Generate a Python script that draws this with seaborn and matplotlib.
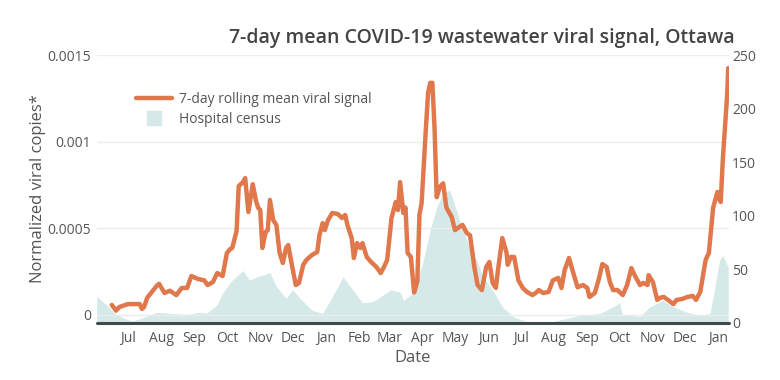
import pandas as pd
import numpy as np
import matplotlib
matplotlib.use("Agg")
import matplotlib.pyplot as plt
import matplotlib.dates as mdates
from matplotlib.lines import Line2D
import seaborn as sns

# 7-day rolling mean viral signal (left axis)
viral_dates = [
    "2021-06-16", "2021-06-20", "2021-06-23", "2021-07-01", "2021-07-12", "2021-07-14",
    "2021-07-16", "2021-07-19", "2021-07-28", "2021-07-30", "2021-08-04", "2021-08-09",
    "2021-08-15", "2021-08-20", "2021-08-25", "2021-08-29", "2021-09-04", "2021-09-10",
    "2021-09-13", "2021-09-18", "2021-09-22", "2021-09-27", "2021-10-01", "2021-10-04",
    "2021-10-06", "2021-10-10", "2021-10-12", "2021-10-16", "2021-10-18", "2021-10-21",
    "2021-10-25", "2021-10-28", "2021-10-30", "2021-11-01", "2021-11-03", "2021-11-06",
    "2021-11-08", "2021-11-10", "2021-11-13", "2021-11-16", "2021-11-19", "2021-11-22",
    "2021-11-25", "2021-11-27", "2021-11-29", "2021-12-04", "2021-12-07", "2021-12-11",
    "2021-12-14", "2021-12-19", "2021-12-24", "2021-12-26", "2021-12-29", "2021-12-31",
    "2022-01-03", "2022-01-07", "2022-01-12", "2022-01-16", "2022-01-19", "2022-01-21",
    "2022-01-25", "2022-01-27", "2022-01-30", "2022-02-02", "2022-02-04", "2022-02-08",
    "2022-02-12", "2022-02-17", "2022-02-21", "2022-02-24", "2022-02-27", "2022-03-03",
    "2022-03-07", "2022-03-09", "2022-03-11", "2022-03-14", "2022-03-16", "2022-03-18",
    "2022-03-21", "2022-03-24", "2022-03-27", "2022-03-29", "2022-03-31", "2022-04-04",
    "2022-04-06", "2022-04-08", "2022-04-10", "2022-04-12", "2022-04-14", "2022-04-17",
    "2022-04-20", "2022-04-23", "2022-04-28", "2022-05-01", "2022-05-05", "2022-05-08",
    "2022-05-12", "2022-05-15", "2022-05-19", "2022-05-22", "2022-05-26", "2022-05-30",
    "2022-06-02", "2022-06-05", "2022-06-08", "2022-06-10", "2022-06-14", "2022-06-18",
    "2022-06-19", "2022-06-22", "2022-06-25", "2022-06-29", "2022-07-03", "2022-07-07",
    "2022-07-12", "2022-07-15", "2022-07-18", "2022-07-22", "2022-07-27", "2022-07-31",
    "2022-08-05", "2022-08-08", "2022-08-11", "2022-08-15", "2022-08-19", "2022-08-23",
    "2022-08-28", "2022-09-01", "2022-09-03", "2022-09-08", "2022-09-12", "2022-09-15",
    "2022-09-19", "2022-09-22", "2022-09-25", "2022-09-29", "2022-10-04", "2022-10-08",
    "2022-10-12", "2022-10-15", "2022-10-20", "2022-10-23", "2022-10-27", "2022-10-28",
    "2022-11-01", "2022-11-05", "2022-11-08", "2022-11-11", "2022-11-15", "2022-11-20",
    "2022-11-23", "2022-11-28", "2022-12-03", "2022-12-08", "2022-12-11", "2022-12-15",
    "2022-12-20", "2022-12-23", "2022-12-27", "2022-12-31", "2023-01-01", "2023-01-03",
    "2023-01-05", "2023-01-09", "2023-01-10",
]
viral_vals = [
    0.000058, 0.000025, 0.000046, 0.000063, 0.000063, 0.000035,
    0.000046, 0.000100, 0.000170, 0.000180, 0.000127, 0.000140,
    0.000115, 0.000156, 0.000156, 0.000225, 0.000208, 0.000200,
    0.000173, 0.000190, 0.000242, 0.000225, 0.000358, 0.000380,
    0.000387, 0.000485, 0.000744, 0.000767, 0.000790, 0.000594,
    0.000755, 0.000660, 0.000620, 0.000606, 0.000387, 0.000479,
    0.000490, 0.000664, 0.000548, 0.000520, 0.000358, 0.000300,
    0.000387, 0.000404, 0.000335, 0.000173, 0.000185, 0.000290,
    0.000318, 0.000346, 0.000364, 0.000460, 0.000530, 0.000490,
    0.000548, 0.000589, 0.000583, 0.000560, 0.000577, 0.000520,
    0.000444, 0.000329, 0.000415, 0.000387, 0.000415, 0.000335,
    0.000306, 0.000277, 0.000242, 0.000277, 0.000318, 0.000560,
    0.000652, 0.000606, 0.000767, 0.000589, 0.000620, 0.000358,
    0.000335, 0.000130, 0.000195, 0.000580, 0.000646, 0.001080,
    0.001280, 0.001340, 0.001340, 0.001080, 0.000680, 0.000740,
    0.000760, 0.000620, 0.000565, 0.000490, 0.000508, 0.000520,
    0.000473, 0.000460, 0.000277, 0.000173, 0.000144, 0.000277,
    0.000306, 0.000185, 0.000156, 0.000260, 0.000444, 0.000358,
    0.000290, 0.000335, 0.000335, 0.000200, 0.000156, 0.000133,
    0.000115, 0.000127, 0.000144, 0.000127, 0.000133, 0.000200,
    0.000214, 0.000156, 0.000260, 0.000329, 0.000242, 0.000160,
    0.000173, 0.000156, 0.000104, 0.000127, 0.000214, 0.000294,
    0.000277, 0.000190, 0.000144, 0.000144, 0.000115, 0.000173,
    0.000271, 0.000230, 0.000173, 0.000185, 0.000173, 0.000230,
    0.000190, 0.000087, 0.000100, 0.000104, 0.000087, 0.000063,
    0.000087, 0.000092, 0.000104, 0.000110, 0.000087, 0.000133,
    0.000318, 0.000358, 0.000620, 0.000710, 0.000680, 0.000652,
    0.000900, 0.001270, 0.001425,
]

# hospital census (right axis)
hosp_dates = [
    "2021-06-02", "2021-06-11", "2021-06-20", "2021-07-01", "2021-07-06", "2021-07-15",
    "2021-07-28", "2021-08-11", "2021-08-25", "2021-09-06", "2021-09-12", "2021-09-22",
    "2021-09-27", "2021-10-06", "2021-10-16", "2021-10-22", "2021-10-29", "2021-11-10",
    "2021-11-16", "2021-11-25", "2021-12-01", "2021-12-10", "2021-12-19", "2021-12-29",
    "2022-01-05", "2022-01-17", "2022-01-26", "2022-02-04", "2022-02-14", "2022-02-23",
    "2022-03-02", "2022-03-11", "2022-03-14", "2022-03-23", "2022-04-01", "2022-04-08",
    "2022-04-14", "2022-04-20", "2022-04-26", "2022-05-03", "2022-05-12", "2022-05-21",
    "2022-05-27", "2022-06-05", "2022-06-14", "2022-06-24", "2022-07-07", "2022-07-26",
    "2022-08-07", "2022-08-25", "2022-09-13", "2022-09-25", "2022-10-01", "2022-10-04",
    "2022-10-13", "2022-10-20", "2022-10-29", "2022-11-10", "2022-11-20", "2022-12-03",
    "2022-12-15", "2022-12-24", "2022-12-27", "2023-01-02", "2023-01-05", "2023-01-10",
]
hosp_vals = [
    25, 17, 8, 3, 2, 5,
    10, 9, 8, 10, 9, 17,
    28, 40, 49, 40, 43, 47,
    34, 23, 31, 21, 12, 9,
    21, 43, 31, 19, 20, 26,
    31, 29, 21, 28, 56, 87,
    108, 121, 124, 103, 77, 59,
    43, 31, 15, 6, 1, 0,
    3, 7, 9, 15, 19, 7,
    7, 6, 15, 21, 15, 10,
    7, 9, 24, 59, 63, 52,
]

viral = pd.DataFrame({"date": pd.to_datetime(viral_dates), "signal": viral_vals})
hosp = pd.DataFrame({"date": pd.to_datetime(hosp_dates), "census": hosp_vals})

line_color = "#e0784c"
fill_color = "#d5e9e9"
text_color = "#555555"

sns.set_theme(style="white")
plt.rcParams["font.family"] = ["Open Sans", "DejaVu Sans"]

fig = plt.figure(figsize=(7.8, 3.8), dpi=100)
ax = fig.add_axes([0.124, 0.15, 0.811, 0.705])
ax2 = ax.twinx()

# hospital census area on right axis
ax2.fill_between(hosp["date"], 0, hosp["census"], color=fill_color, linewidth=0)
ax2.set_ylim(0, 250)
ax2.set_yticks([0, 50, 100, 150, 200, 250])
ax2.tick_params(axis="y", length=0, labelsize=10, labelcolor=text_color, pad=2)

# viral signal line on left axis, drawn above the area
ax.set_zorder(ax2.get_zorder() + 1)
ax.patch.set_visible(False)
sns.lineplot(data=viral, x="date", y="signal", ax=ax, color=line_color, linewidth=3.2)
ax.set_ylim(-0.0000462, 0.0015)
ax.set_yticks([0, 0.0005, 0.001, 0.0015])
ax.set_yticklabels(["0", "0.0005", "0.001", "0.0015"])
ax.yaxis.grid(True, color="#ececec", linewidth=1)
ax.tick_params(axis="y", length=0, labelsize=10, labelcolor=text_color, pad=4)

xmin, xmax = pd.Timestamp("2021-06-02"), pd.Timestamp("2023-01-11")
ax.set_xlim(xmin, xmax)
months = pd.date_range("2021-07-01", "2023-01-01", freq="MS")
ax.set_xticks(months)
ax.xaxis.set_major_formatter(mdates.DateFormatter("%b"))
ax.tick_params(axis="x", length=0, labelsize=10, labelcolor=text_color, pad=6)

for a in (ax, ax2):
    for s in ("top", "right", "left", "bottom"):
        a.spines[s].set_visible(False)
ax.axhline(-0.0000462, color="#3f4a4a", linewidth=2.2, clip_on=False)

ax.set_xlabel("Date", fontsize=12, color=text_color, labelpad=3)
ax.set_ylabel("Normalized viral copies*", fontsize=12, color=text_color, labelpad=1)
ax2.set_ylabel("")

fig.text(0.942, 0.9, "7-day mean COVID-19 wastewater viral signal, Ottawa",
         ha="right", va="center", fontsize=14, color="#444444", fontweight="semibold")

handles = [
    Line2D([], [], color=line_color, linewidth=3.2),
    Line2D([], [], color=fill_color, marker="s", linestyle="none", markersize=10),
]
ax.legend(handles, ["7-day rolling mean viral signal", "Hospital census"],
          loc="upper left", bbox_to_anchor=(0.167, 0.772), bbox_transform=fig.transFigure,
          frameon=False, fontsize=10, labelcolor=text_color, handlelength=2.6,
          handletextpad=0.5, labelspacing=0.35, borderaxespad=0)

fig.savefig("out.png", dpi=100)
